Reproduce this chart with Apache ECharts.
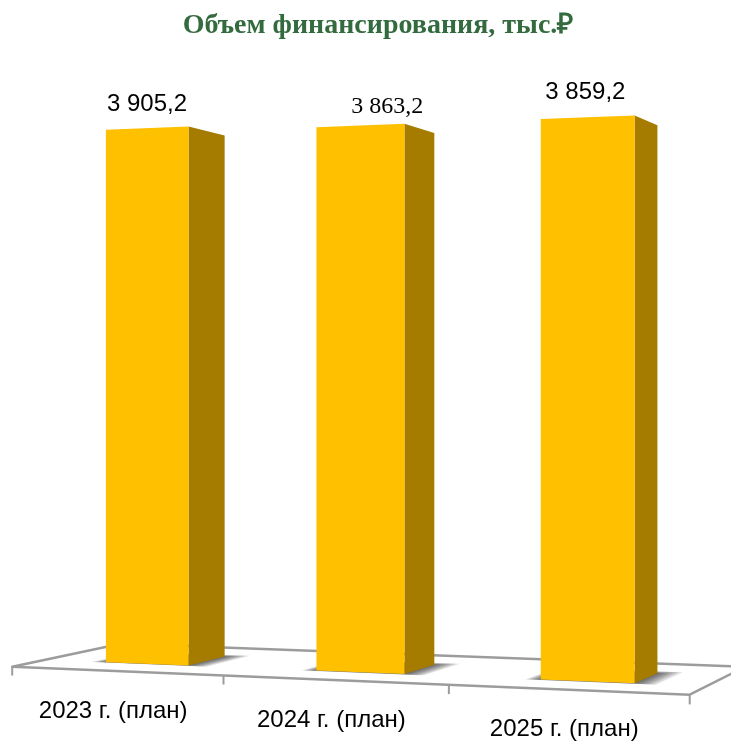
<!DOCTYPE html>
<html>
<head>
<meta charset="utf-8">
<script src="https://cdn.jsdelivr.net/npm/echarts@6/dist/echarts.min.js"></script>
<style>
  html, body { margin: 0; padding: 0; background: #ffffff; }
  #chart { width: 731px; height: 743px; }
</style>
</head>
<body>
<div id="chart"></div>
<script>
// ---- data ----
const categories = ['2023 г. (план)', '2024 г. (план)', '2025 г. (план)'];
const values = [3905.2, 3863.2, 3859.2];
const titleText = 'Объем финансирования, тыс.₽';

// ---- styling / layout config (not data) ----
const labelStyle = [
  { dx: 0, dy: -24, family: 'Liberation Sans, Arial, sans-serif' },
  { dx: 27, dy: -19, family: 'Liberation Serif, Times New Roman, serif' },
  { dx: -2, dy: -25, family: 'Liberation Sans, Arial, sans-serif' }
];
const FRONT = '#FFC000';
const SIDE = '#A67C00';
const FLOOR_LINE = '#9C9C9C';

// simple two-point perspective camera
const CAM = { f: 2522, cx: 365, cy: 396.5, theta: 20.04 * Math.PI / 180, dist: 2522, eye: 276 };
const OX = 356.9;          // world X = pixel X on axis - OX
const FLOOR_Z0 = -73, FLOOR_Z1 = 183;
const cosT = Math.cos(CAM.theta), sinT = Math.sin(CAM.theta);
function project(X, Y, Z) {
  const xc = cosT * X + sinT * Z;
  const zc = CAM.dist - sinT * X + cosT * Z;
  return [CAM.cx + CAM.f * xc / zc, CAM.cy - CAM.f * (Y - CAM.eye) / zc];
}
function fmt(v) {
  const parts = v.toFixed(1).split('.');
  return parts[0].replace(/\B(?=(\d{3})+(?!\d))/g, ' ') + ',' + parts[1];
}

const chart = echarts.init(document.getElementById('chart'), null, { renderer: 'canvas' });

function renderFloor(params, api) {
  const cs = params.coordSys;
  const xl = cs.x - OX, xr = cs.x + cs.width - OX;
  const band = cs.width / categories.length;
  const children = [];
  const pts = [project(xl, 0, FLOOR_Z0), project(xr, 0, FLOOR_Z0),
               project(xr, 0, FLOOR_Z1), project(xl, 0, FLOOR_Z1)];
  children.push({ type: 'polygon', shape: { points: pts },
    style: { fill: '#ffffff', stroke: FLOOR_LINE, lineWidth: 2.5, lineJoin: 'round' } });
  for (let k = 0; k <= categories.length; k++) {
    const X = cs.x + k * band - OX;
    const a = project(X, 0, FLOOR_Z0), b = project(X, -9, FLOOR_Z0);
    children.push({ type: 'line', shape: { x1: a[0], y1: a[1], x2: b[0], y2: b[1] },
      style: { stroke: FLOOR_LINE, lineWidth: 2 } });
  }
  for (let i = 0; i < categories.length; i++) {
    const X = api.coord([i, 0])[0] - OX;
    const p = project(X, 0, FLOOR_Z0);
    children.push({ type: 'text', x: p[0] - 3, y: p[1] + 40,
      style: { text: categories[i], fill: '#000000', fontSize: 24,
        fontFamily: 'Liberation Sans, Arial, sans-serif', align: 'center', verticalAlign: 'middle' } });
  }
  return { type: 'group', children: children };
}

function renderBar(params, api) {
  const i = api.value(0), v = api.value(1);
  const top = api.coord([i, v]), base = api.coord([i, 0]);
  const H = base[1] - top[1];
  const band = api.size([1, 0])[0];
  const W = band * 0.4, D = W;
  const xc = top[0] - OX;
  const x0 = xc - W / 2, x1 = xc + W / 2;
  const children = [];
  // soft floor shadow: stacked translucent footprints, larger ones lighter
  for (let k = 5; k >= 0; k--) {
    const e = 2 + 3.2 * k;
    children.push({ type: 'polygon',
      shape: { points: [project(x0 - e * 0.8, 0, -e * 0.25), project(x1 + e * 1.2, 0, -e * 0.25),
                        project(x1 + e * 1.2, 0, D + e), project(x0 - e * 0.8, 0, D + e)] },
      style: { fill: 'rgba(0,0,0,0.13)' } });
  }
  // side face
  children.push({ type: 'polygon',
    shape: { points: [project(x1, 0, 0), project(x1, 0, D), project(x1, H, D), project(x1, H, 0)] },
    style: { fill: SIDE } });
  // front face
  children.push({ type: 'polygon',
    shape: { points: [project(x0, 0, 0), project(x1, 0, 0), project(x1, H, 0), project(x0, H, 0)] },
    style: { fill: FRONT } });
  // value label
  const lp = project(xc, H, 0);
  const ls = labelStyle[params.dataIndex];
  children.push({ type: 'text', x: lp[0] + ls.dx, y: lp[1] + ls.dy,
    style: { text: fmt(v), fill: '#000000', fontSize: 24, fontFamily: ls.family,
      align: 'center', verticalAlign: 'middle' } });
  return { type: 'group', children: children };
}

chart.setOption({
  animation: false,
  backgroundColor: '#ffffff',
  title: {
    text: titleText, left: 373, top: 7, textAlign: 'center',
    textStyle: { fontFamily: 'Liberation Serif, Times New Roman, serif', fontWeight: 'bold',
      fontSize: 28, color: '#336B3F' }
  },
  grid: { left: 0, top: 0, width: 703.5, height: 708.1 },
  xAxis: { type: 'category', data: categories, show: false },
  yAxis: { type: 'value', min: 0, max: 5000, show: false },
  series: [
    { type: 'custom', z: 1, silent: true, data: [[0, 0]], encode: { x: 0, y: 1 },
      renderItem: renderFloor, clip: false },
    { type: 'custom', z: 2, silent: true, data: values.map((v, i) => [i, v]),
      encode: { x: 0, y: 1 }, renderItem: renderBar, clip: false }
  ]
});
</script>
</body>
</html>
